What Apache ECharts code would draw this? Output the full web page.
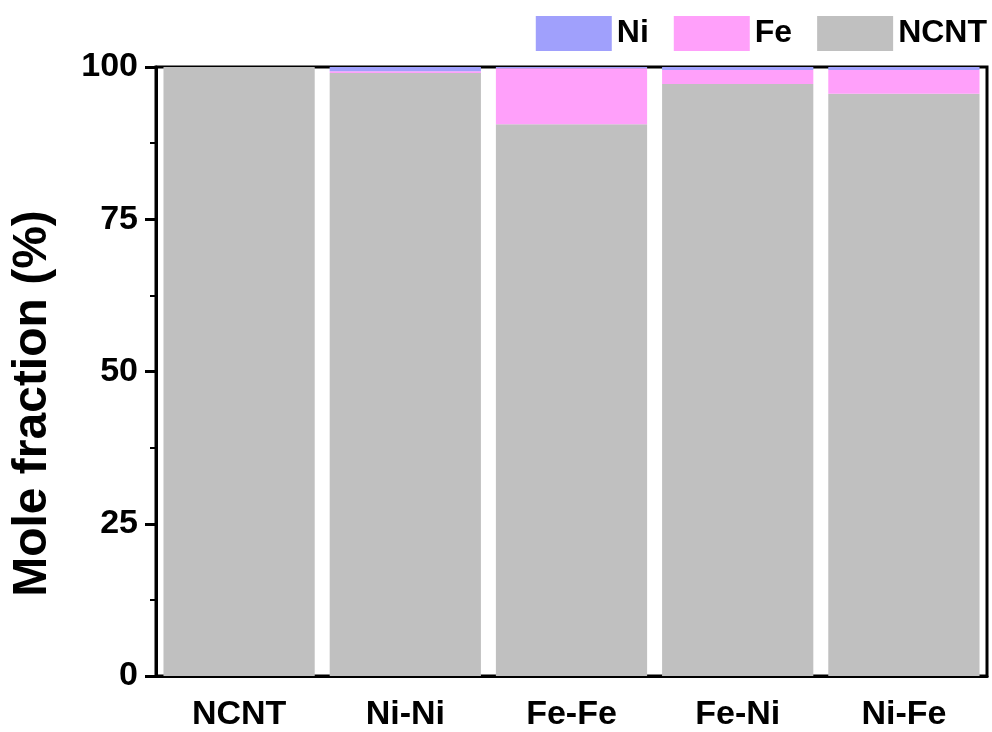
<!DOCTYPE html>
<html>
<head>
<meta charset="utf-8">
<script src="https://cdn.jsdelivr.net/npm/echarts@6/dist/echarts.min.js"></script>
<style>
  body { margin: 0; background: #fff; }
  #chart { width: 992px; height: 732px; }
</style>
</head>
<body>
<div id="chart"></div>
<script>
var categories = ['NCNT', 'Ni-Ni', 'Fe-Fe', 'Fe-Ni', 'Ni-Fe'];
var ncntValues = [100, 99.0, 90.6, 97.2, 95.6];
var feValues = [0, 0.3, 9.2, 2.3, 3.9];
var niValues = [0, 0.7, 0.2, 0.5, 0.5];
var yTicks = [0, 25, 50, 75, 100];

var chart = echarts.init(document.getElementById('chart'));
var font = 'Liberation Sans, Arial, sans-serif';

option = {
  animation: false,
  textStyle: { fontFamily: font },
  legend: {
    data: ['Ni', 'Fe', 'NCNT'],
    right: 5,
    top: 16,
    padding: 0,
    itemWidth: 76,
    itemHeight: 35,
    itemGap: 25,
    icon: 'rect',
    textStyle: { fontSize: 32, fontWeight: 'bold', color: '#000', fontFamily: font }
  },
  grid: {
    left: 156, right: 5, top: 67, bottom: 56,
    outerBoundsMode: 'none',
    containLabel: false,
    show: true, borderColor: '#000', borderWidth: 3, backgroundColor: 'transparent'
  },
  xAxis: {
    type: 'category',
    data: categories,
    axisLine: { lineStyle: { color: '#000', width: 3 } },
    axisTick: { alignWithLabel: true, length: 10, lineStyle: { color: '#000', width: 3 } },
    axisLabel: {
      fontSize: 34, fontWeight: 'bold', color: '#000', margin: 22,
      fontFamily: font
    }
  },
  yAxis: {
    type: 'value',
    min: yTicks[0],
    max: yTicks[yTicks.length - 1],
    interval: 25,
    name: 'Mole fraction (%)',
    nameLocation: 'middle',
    nameGap: 99,
    nameTextStyle: {
      fontSize: 48, fontWeight: 'bold', color: '#000', fontFamily: font,
      padding: [0, 64, 0, 0]
    },
    axisLine: { show: true, lineStyle: { color: '#000', width: 3 } },
    axisTick: { show: true, length: 11, lineStyle: { color: '#000', width: 3 } },
    minorTick: { show: true, splitNumber: 2, length: 6, lineStyle: { color: '#000', width: 2 } },
    splitLine: { show: false },
    axisLabel: { fontSize: 34, fontWeight: 'bold', color: '#000', margin: 18 }
  },
  series: [
    {
      name: 'NCNT', type: 'bar', stack: 'total', data: ncntValues,
      barWidth: '91%', itemStyle: { color: '#c0c0c0' }
    },
    {
      name: 'Fe', type: 'bar', stack: 'total', data: feValues,
      itemStyle: { color: '#ffa0fa' }
    },
    {
      name: 'Ni', type: 'bar', stack: 'total', data: niValues,
      itemStyle: { color: '#a0a0fc' }
    }
  ]
};
chart.setOption(option);
</script>
</body>
</html>
